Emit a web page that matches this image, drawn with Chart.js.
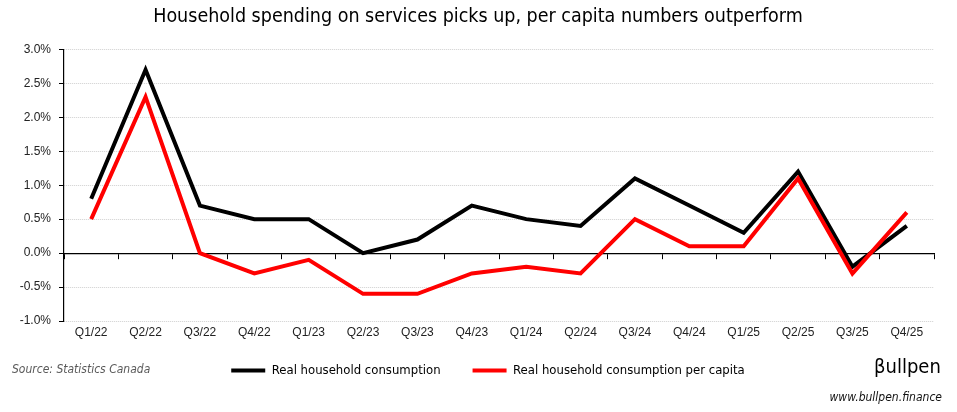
<!DOCTYPE html>
<html>
<head>
<meta charset="utf-8">
<script src="https://cdn.jsdelivr.net/npm/chart.js@4.4.0/dist/chart.umd.min.js"></script>
<style>
  html, body { margin: 0; padding: 0; background: #fff; }
  #wrap { position: relative; width: 957px; height: 412px; }
  .note { position: absolute; font-family: "DejaVu Sans Condensed", sans-serif; white-space: nowrap; }
  #source { left: 12px; top: 362px; font-size: 12px; font-style: italic; color: #595959; }
  #logo { left: 874px; top: 354px; font-size: 20px; color: #000; }
  #url { right: 15px; top: 390px; font-size: 12px; font-style: italic; color: #111; }
</style>
</head>
<body>
<div id="wrap">
  <canvas id="spendChart" style="width:957px;height:412px"></canvas>
  <div class="note" id="source">Source: Statistics Canada</div>
  <div class="note" id="logo">βullpen</div>
  <div class="note" id="url">www.bullpen.finance</div>
</div>
<script>
// quarter labels
const quarters = ['Q1/22', 'Q2/22', 'Q3/22', 'Q4/22', 'Q1/23', 'Q2/23', 'Q3/23', 'Q4/23',
                  'Q1/24', 'Q2/24', 'Q3/24', 'Q4/24', 'Q1/25', 'Q2/25', 'Q3/25', 'Q4/25'];

// quarterly % change
const realConsumption = [0.8, 2.7, 0.7, 0.5, 0.5, 0.0, 0.2, 0.7, 0.5, 0.4, 1.1, 0.7, 0.3, 1.2, -0.2, 0.4];
const perCapita       = [0.5, 2.3, 0.0, -0.3, -0.1, -0.6, -0.6, -0.3, -0.2, -0.3, 0.5, 0.1, 0.1, 1.1, -0.3, 0.6];

const seriesNames = ['Real household consumption', 'Real household consumption per capita'];
const yMin = -1.0, yMax = 3.0, yStep = 0.5;

const narrow = '"DejaVu Sans Condensed", sans-serif';
const arial = '"Liberation Sans", Arial, sans-serif';

// nudge the legend and title a little, like the original
const boxShift = {
  id: 'boxShift',
  afterLayout(chart) {
    const lg = chart.legend;
    lg.left += 18; lg.right += 18;
    lg.top -= 9; lg.bottom -= 9;
    const tt = chart.titleBlock;
    if (tt) { tt.left += 8; tt.right += 8; }
  }
};

new Chart(document.getElementById('spendChart'), {
  type: 'line',
  data: {
    labels: quarters,
    datasets: [
      {
        label: seriesNames[0],
        data: realConsumption,
        borderColor: '#000000',
        backgroundColor: '#000000',
        borderWidth: 4,
        pointRadius: 0,
        tension: 0,
        order: 1
      },
      {
        label: seriesNames[1],
        data: perCapita,
        borderColor: '#ff0000',
        backgroundColor: '#ff0000',
        borderWidth: 4,
        pointRadius: 0,
        tension: 0,
        order: 0
      }
    ]
  },
  plugins: [boxShift],
  options: {
    responsive: false,
    animation: false,
    layout: { padding: { left: 6, right: 23, bottom: 16 } },
    plugins: {
      title: {
        display: true,
        text: 'Household spending on services picks up, per capita numbers outperform',
        color: '#000',
        font: { family: narrow, size: 19.5, weight: 'normal' },
        padding: { top: 5, bottom: 21 }
      },
      legend: {
        position: 'bottom',
        labels: {
          color: '#000',
          font: { family: narrow, size: 13 },
          boxWidth: 34,
          boxHeight: 4,
          padding: 32,
          sort: (a, b) => a.datasetIndex - b.datasetIndex,
          generateLabels: chart => Chart.defaults.plugins.legend.labels.generateLabels(chart)
            .map(l => ({ ...l, lineWidth: 0 }))
        }
      },
      tooltip: { enabled: false }
    },
    scales: {
      x: {
        offset: true,
        grid: { display: false, drawTicks: false },
        border: { display: false },
        ticks: { color: '#222', font: { family: arial, size: 12 }, padding: 4, maxRotation: 0, autoSkip: false },
        afterFit: scale => { scale.height = 20; }
      },
      x0: {
        axis: 'x',
        type: 'category',
        labels: quarters,
        position: { y: 0 },
        offset: true,
        ticks: { display: false },
        grid: { drawOnChartArea: false, offset: true, tickLength: 5, color: '#000', lineWidth: 1 },
        border: { display: true, color: '#000', width: 1.2 }
      },
      y: {
        min: yMin,
        max: yMax,
        ticks: {
          stepSize: yStep,
          color: '#222',
          padding: 8,
          font: { family: arial, size: 12 },
          callback: v => v.toFixed(1) + '%'
        },
        grid: {
          color: ctx => ctx.tick && ctx.tick.value === 0 ? 'rgba(0,0,0,0)' : '#cfcfcf',
          lineWidth: 1,
          tickLength: 5,
          tickColor: '#000'
        },
        border: { display: true, color: '#000', width: 1.2, dash: [1, 1] },
        afterFit: scale => { scale.width = 58; }
      }
    }
  }
});
</script>
</body>
</html>
